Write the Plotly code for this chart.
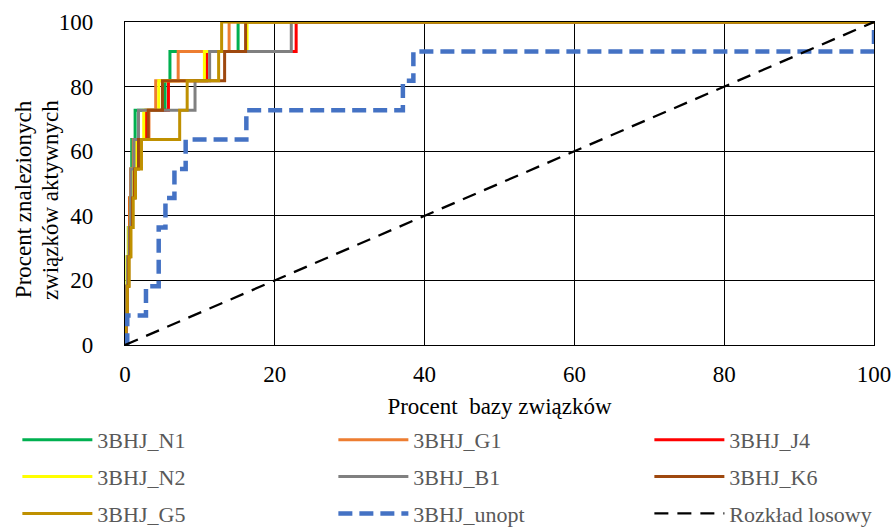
import plotly.graph_objects as go

# Percent of actives found (11 actives -> steps of 1/11)
levels = [0, 9.1, 18.2, 27.3, 36.4, 45.5, 54.5, 63.6, 72.7, 81.8, 90.9, 100, 100]

# x (percent of database) at which each level is reached, last point = 100
x_N1 = [0, 0.05, 0.15, 0.3, 0.45, 0.6, 0.8, 0.9, 1.35, 5.35, 6.0, 15.1, 100]
x_G1 = [0, 0.1, 0.2, 0.35, 0.5, 0.65, 0.75, 1.1, 3.2, 4.1, 7.1, 13.9, 100]
x_J4 = [0, 0.1, 0.25, 0.4, 0.55, 0.65, 1.0, 1.3, 2.8, 5.8, 10.9, 22.85, 100]
x_N2 = [0, 0.05, 0.15, 0.25, 0.45, 0.7, 0.9, 1.5, 2.5, 4.5, 10.6, 16.3, 100]
x_B1 = [0, 0.1, 0.2, 0.35, 0.55, 0.75, 0.8, 1.2, 1.8, 9.35, 11.3, 22.2, 100]
x_K6 = [0, 0.15, 0.3, 0.5, 0.7, 1.0, 1.3, 1.8, 3.1, 5.0, 13.3, 16.1, 100]
x_G5 = [0, 0.1, 0.3, 0.55, 0.8, 1.1, 1.4, 2.2, 7.3, 8.3, 12.5, 12.9, 100]

x_unopt = [0, 0.3, 2.8, 4.5, 5.4, 6.6, 8.1, 16.2, 37.1, 38.5, 100, 100]
y_unopt = [0, 9.1, 18.2, 36.4, 45.5, 54.5, 63.6, 72.7, 81.8, 90.9, 90.9, 100]

x_random = [0, 100]
y_random = [0, 100]

y_title_lines = ["Procent znalezionych", "związków aktywnych"]

# (name, x values, colour, legend column)
series = [
    ("3BHJ_N1", x_N1, "#00B050", "legend"),
    ("3BHJ_G1", x_G1, "#ED7D31", "legend2"),
    ("3BHJ_J4", x_J4, "#FF0000", "legend3"),
    ("3BHJ_N2", x_N2, "#FFFF00", "legend"),
    ("3BHJ_B1", x_B1, "#808080", "legend2"),
    ("3BHJ_K6", x_K6, "#9E480E", "legend3"),
    ("3BHJ_G5", x_G5, "#BF9000", "legend"),
]

FONT = "Liberation Serif"

fig = go.Figure()
for name, xs, col, lg in series:
    fig.add_trace(go.Scatter(x=xs, y=levels, mode="lines", name=name, legend=lg,
                             legendgroup=name,
                             line=dict(color=col, width=3, shape="hv")))
fig.add_trace(go.Scatter(x=x_unopt, y=y_unopt, mode="lines", name="3BHJ_unopt",
                         legend="legend2", legendgroup="3BHJ_unopt",
                         line=dict(color="#4472C4", width=4.5, shape="hv", dash="14px,7px")))
fig.add_trace(go.Scatter(x=x_random, y=y_random, mode="lines", name="Rozkład losowy",
                         legend="legend3", legendgroup="random",
                         line=dict(color="black", width=2.3, dash="14px,9px")))

axis_common = dict(range=[0, 100], dtick=20, tick0=0, showgrid=True, gridcolor="black",
                   gridwidth=1.3, zeroline=False, showline=True, linecolor="black",
                   linewidth=1.3, mirror=True, ticks="", automargin=False,
                   tickfont=dict(family=FONT, size=23, color="black"))

fig.update_xaxes(**axis_common, ticklabelstandoff=8,
                 title=dict(text="Procent\u00a0 bazy związków",
                            font=dict(family=FONT, size=23, color="black"), standoff=12))
fig.update_yaxes(**axis_common, ticklabelstandoff=26)

for txt, xp in zip(y_title_lines, [-0.1355, -0.0995]):
    fig.add_annotation(text=txt, textangle=-90,
                       xref="paper", yref="paper", x=xp, y=0.45,
                       xanchor="center", yanchor="middle",
                       showarrow=False, font=dict(family=FONT, size=23, color="black"))

def legend_box(xpos):
    return dict(orientation="v", xref="paper", yref="paper",
                x=xpos, y=-0.2291, xanchor="left", yanchor="top",
                itemwidth=70, tracegroupgap=5.2,
                font=dict(family=FONT, size=22, color="#595959"),
                bgcolor="rgba(0,0,0,0)", traceorder="grouped")

fig.update_layout(
    width=894, height=528,
    margin=dict(l=125, r=20, t=22, b=183, autoexpand=False),
    paper_bgcolor="white", plot_bgcolor="white",
    font=dict(family=FONT, size=23, color="black"),
    showlegend=True,
    legend=legend_box(-0.1437),
    legend2=legend_box(0.2782),
    legend3=legend_box(0.7001),
)

fig.write_html("out.html", config={"displayModeBar": False},
               post_script="document.body.style.margin='0';")
